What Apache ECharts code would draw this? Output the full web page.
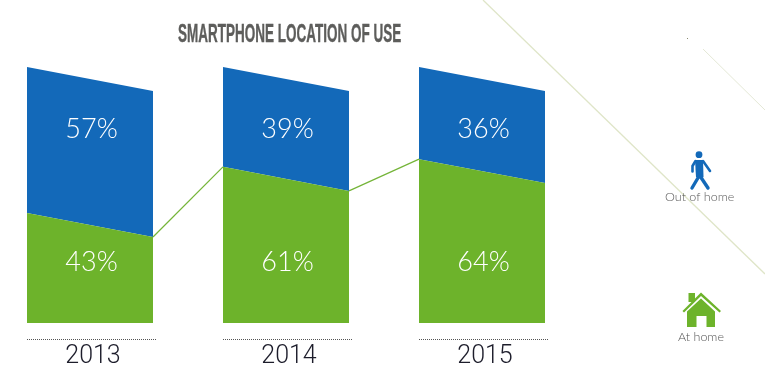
<!DOCTYPE html>
<html>
<head>
<meta charset="utf-8">
<style>
html, body { margin: 0; padding: 0; background: #fff; }
#main { width: 765px; height: 381px; }
</style>
<script src="https://cdn.jsdelivr.net/npm/echarts@6/dist/echarts.min.js"></script>
</head>
<body>
<div id="main"></div>
<script>
var years = ['2013', '2014', '2015'];
var atHome = [43, 61, 64];
var outOfHome = [57, 39, 36];
// the right edge of each slanted bar (% of the axis)
var atHomeRight = [33.6, 51.6, 54.7];
var totalRight = [90.6, 90.6, 90.6];

var BLUE = '#1369b9';
var GREEN = '#6db32b';
var FONT = 'Lato, "Open Sans", sans-serif';

// bands are 196px apart, a bar is 126px wide
function barEdges(api, i) {
    var c = api.coord([i, 0])[0];
    var w = api.size([1, 0])[0] * 126 / 196;
    return { left: c - w / 2, right: c + w / 2, center: c };
}

function slantedBar(color, labelValue) {
    return function (params, api) {
        var i = api.value(0);
        var e = barEdges(api, i);
        var y = function (v) { return api.coord([i, v])[1]; };
        return {
            type: 'group',
            children: [
                {
                    type: 'polygon',
                    shape: { points: [
                        [e.left, y(api.value(1))],
                        [e.right, y(api.value(3))],
                        [e.right, y(api.value(4))],
                        [e.left, y(api.value(2))]
                    ] },
                    style: { fill: color }
                },
                {
                    type: 'text',
                    style: {
                        text: api.value(5) + '%',
                        x: e.center + 1.5,
                        y: y(labelValue),
                        fill: '#fff',
                        font: '300 27px ' + FONT,
                        textAlign: 'center',
                        textVerticalAlign: 'middle'
                    }
                }
            ]
        };
    };
}

var chart = echarts.init(document.getElementById('main'));
chart.setOption({
    animation: false,
    backgroundColor: '#fff',
    grid: { left: 90, width: 392, top: 67, height: 256 },
    xAxis: {
        type: 'category',
        boundaryGap: false,
        data: years,
        axisLine: { show: false },
        axisTick: { show: false },
        axisLabel: { margin: 21, color: '#1d1d2b', fontFamily: 'Roboto', fontWeight: 300, fontSize: 25, padding: [0, 0, 0, 6], showMinLabel: true, showMaxLabel: true }
    },
    yAxis: { type: 'value', min: 0, max: 100, show: false },
    series: [
        {
            name: 'Out of home',
            type: 'custom',
            renderItem: slantedBar(BLUE, 75.8),
            encode: { x: 0, y: 1 },
            data: years.map(function (y, i) {
                return [i, atHome[i] + outOfHome[i], atHome[i], totalRight[i], atHomeRight[i], outOfHome[i]];
            })
        },
        {
            name: 'At home',
            type: 'custom',
            renderItem: slantedBar(GREEN, 23.8),
            encode: { x: 0, y: 1 },
            data: years.map(function (y, i) {
                return [i, atHome[i], 0, atHomeRight[i], 0, atHome[i]];
            })
        },
        {
            // connector from one bar to the next
            name: 'connector',
            type: 'custom',
            renderItem: function (params, api) {
                var i = api.value(0);
                if (i >= years.length - 1) return;
                var a = barEdges(api, i);
                var b = barEdges(api, i + 1);
                return {
                    type: 'line',
                    shape: {
                        x1: a.right, y1: api.coord([i, api.value(1)])[1],
                        x2: b.left, y2: api.coord([i, api.value(2)])[1]
                    },
                    style: { stroke: '#74b438', lineWidth: 1.2 }
                };
            },
            encode: { x: 0, y: 1 },
            data: years.map(function (y, i) {
                return [i, atHomeRight[i], atHome[i + 1] || 0];
            })
        },
        {
            // dotted rule above each year
            name: 'rule',
            type: 'custom',
            renderItem: function (params, api) {
                var i = api.value(0);
                var e = barEdges(api, i);
                var y = api.coord([i, 0])[1] + 16.5;
                return {
                    type: 'line',
                    shape: { x1: e.left, y1: y, x2: e.right + 3, y2: y },
                    style: { stroke: '#555', lineWidth: 1, lineDash: [1, 1] }
                };
            },
            encode: { x: 0 },
            data: years.map(function (y, i) { return [i]; })
        }
    ],
    graphic: [
        // faint diagonals behind everything
        { type: 'line', silent: true, z: -1, shape: { x1: 483, y1: 0, x2: 765, y2: 274 }, style: { stroke: '#dfe5c8', lineWidth: 1.3 } },
        { type: 'line', silent: true, z: -1, shape: { x1: 703, y1: 49, x2: 765, y2: 110 }, style: { stroke: '#e4e8d6', lineWidth: 1 } },
        { type: 'rect', silent: true, shape: { x: 687, y: 38, width: 1, height: 1 }, style: { fill: '#8a8a70' } },

        // no condensed face installed, so squeeze the bold one
        {
            type: 'text', x: 178, y: 23, scaleX: 0.54,
            style: { text: 'SMARTPHONE LOCATION OF USE', fill: '#5d5d5b', stroke: '#5d5d5b', lineWidth: 0.4, font: 'bold 25px "Liberation Sans", sans-serif' }
        },

        // walking figure
        { type: 'circle', shape: { cx: 699, cy: 154.7, r: 3.4 }, style: { fill: BLUE } },
        { type: 'polygon', shape: { points: [[695, 160], [703, 160], [703.5, 177], [701, 179], [696, 177]] }, style: { fill: BLUE } },
        { type: 'polyline', shape: { points: [[695.5, 161], [692.5, 166], [692.5, 171.5]] }, style: { stroke: BLUE, fill: null, lineWidth: 2.6, lineCap: 'round', lineJoin: 'round' } },
        { type: 'polyline', shape: { points: [[703, 161], [710, 171]] }, style: { stroke: BLUE, fill: null, lineWidth: 2.6, lineCap: 'round' } },
        { type: 'polyline', shape: { points: [[698.5, 177], [692, 188]] }, style: { stroke: BLUE, fill: null, lineWidth: 3.4, lineCap: 'round' } },
        { type: 'polyline', shape: { points: [[700, 176], [708, 188]] }, style: { stroke: BLUE, fill: null, lineWidth: 3.4, lineCap: 'round' } },
        {
            type: 'text', left: 665, top: 190,
            style: { text: 'Out of home', fill: '#5a5a5a', font: '300 12.5px ' + FONT }
        },

        // house
        { type: 'rect', shape: { x: 688.5, y: 293, width: 6.5, height: 9 }, style: { fill: GREEN } },
        { type: 'polygon', shape: { points: [[701, 292.5], [721, 311], [719.5, 312.5], [701, 296], [684, 312.5], [682.5, 311]] }, style: { fill: GREEN } },
        { type: 'polygon', shape: { points: [[701, 298.5], [715, 311.5], [715, 327], [706.5, 327], [706.5, 316], [696.5, 316], [696.5, 327], [687, 327], [687, 311.5]] }, style: { fill: GREEN } },
        {
            type: 'text', left: 678, top: 330,
            style: { text: 'At home', fill: '#555', font: '300 12.5px ' + FONT }
        }
    ]
});
</script>
</body>
</html>
